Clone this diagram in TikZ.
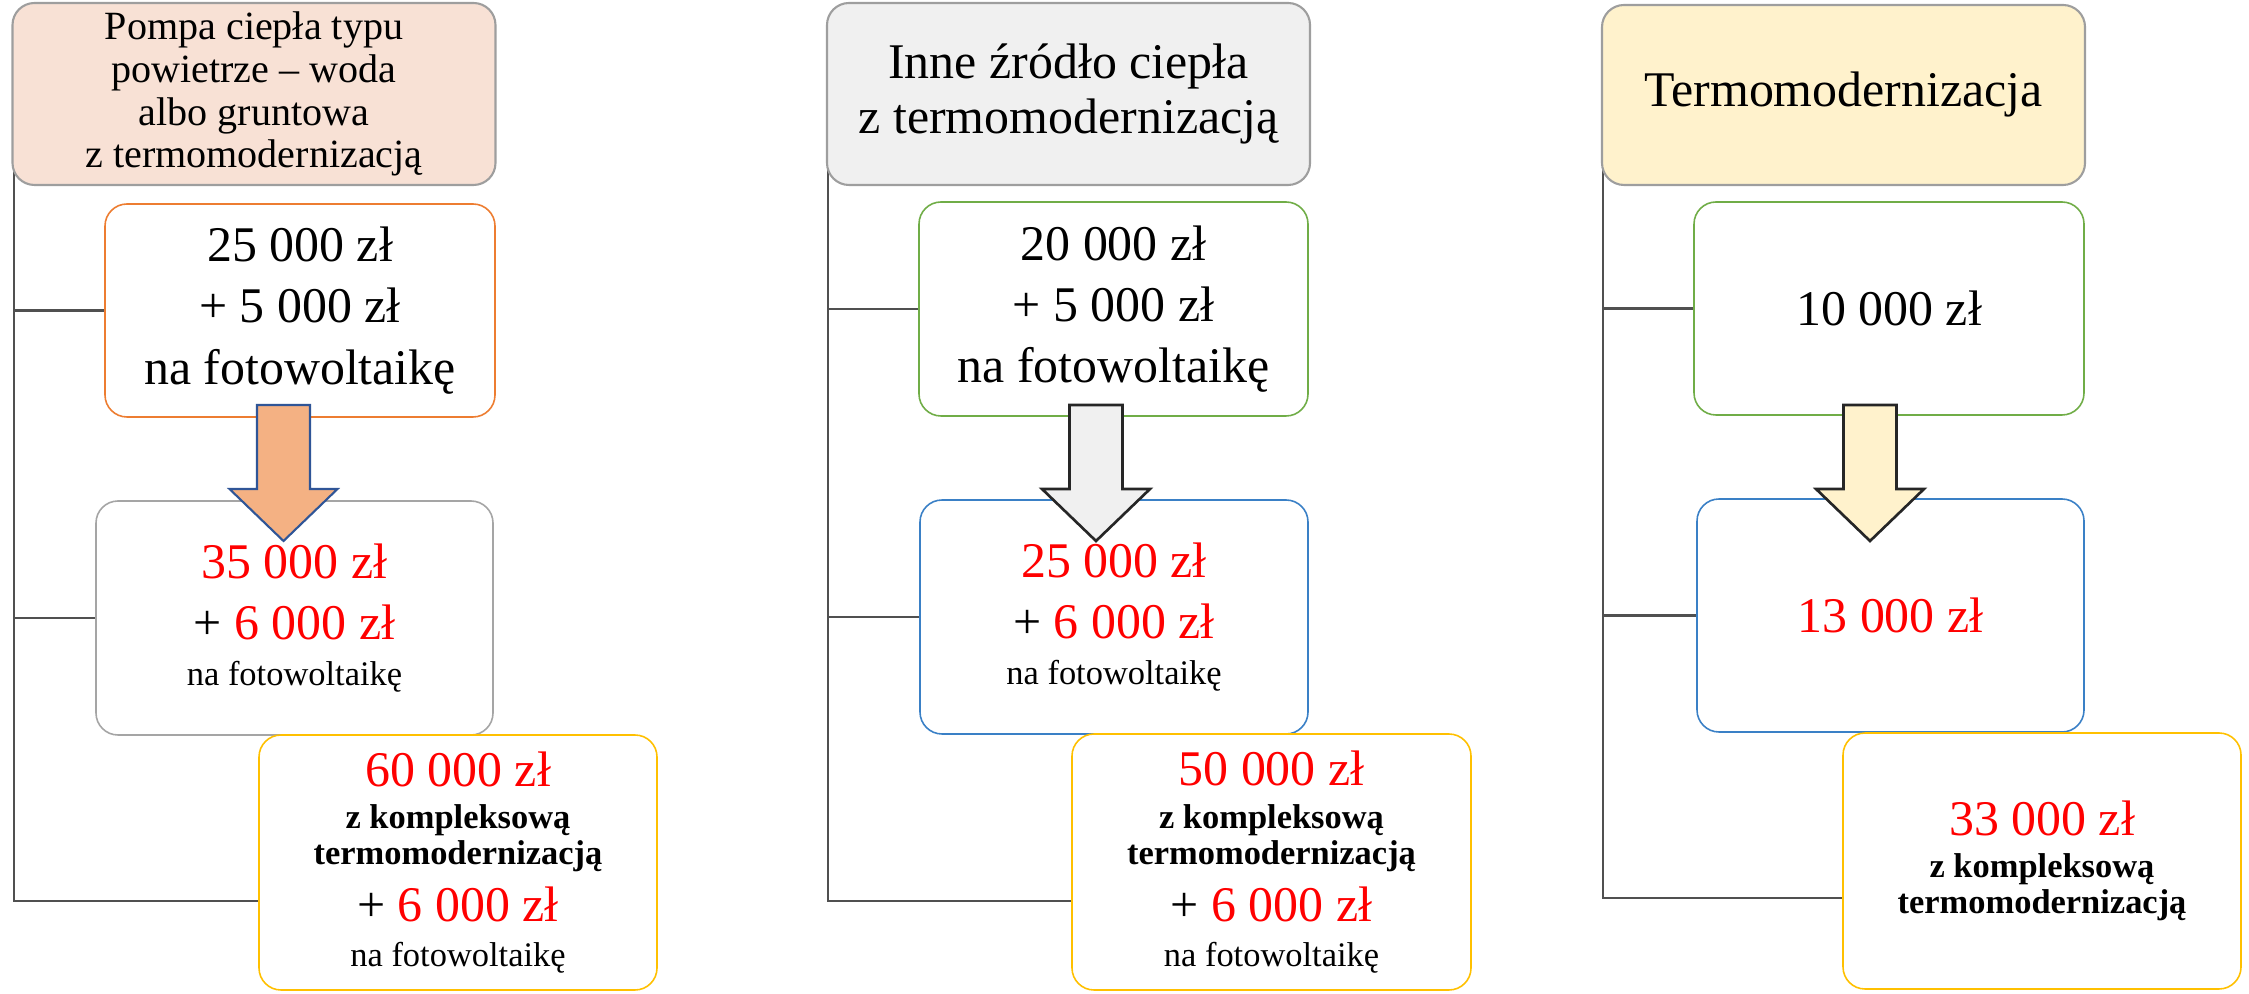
\documentclass[tikz,border=0pt]{standalone}
\usepackage{fontspec}
\setmainfont{Liberation Serif}
\usepackage{xcolor}
\usetikzlibrary{backgrounds}

\definecolor{peach}{HTML}{F8E1D5}
\definecolor{paleg}{HTML}{F0F0F0}
\definecolor{cream}{HTML}{FFF2CC}
\definecolor{headline}{HTML}{9E9E9E}
\definecolor{linkgray}{HTML}{505050}
\definecolor{orangeline}{HTML}{ED7D31}
\definecolor{greenline}{HTML}{70AD47}
\definecolor{blueline}{HTML}{3A80C6}
\definecolor{grayline}{HTML}{A5A5A5}
\definecolor{goldline}{HTML}{FFC000}
\definecolor{arrowblue}{HTML}{2F5597}
\definecolor{arrowpeach}{HTML}{F4B183}
\definecolor{darkline}{HTML}{262626}

\newcommand{\redtxt}[1]{\textcolor{red}{#1}}
\newcommand{\smallfnt}{\fontsize{9.8}{11}\selectfont}

\begin{document}
\begin{tikzpicture}[every node/.style={rounded corners=0.22cm, align=center, inner sep=0pt,
        font=\rmfamily\fontsize{14.2}{17.4}\selectfont},
    head/.style={draw=headline, line width=0.6pt, minimum width=4.83cm, minimum height=1.82cm},
    pricebox/.style={draw, line width=0.45pt, fill=white, minimum width=3.9cm, minimum height=2.13cm,
        font=\rmfamily\fontsize{14.2}{17.4}\selectfont},
    link/.style={draw=linkgray, line width=0.6pt},
    blockarrow/.pic={
        \path[pic actions, sharp corners, line join=miter] (-0.265,0) -- (0.265,0) -- (0.265,-0.84)
            -- (0.54,-0.84) -- (0,-1.36) -- (-0.54,-0.84) -- (-0.265,-0.84) -- cycle;
    }]
    \useasboundingbox (0,0) rectangle (22.49,-9.94);

    % pompa ciepla
    \node[head, fill=peach, font=\rmfamily\fontsize{11.4}{12.2}\selectfont] (hp) at (2.54,-0.94)
        {Pompa ciepła typu\\powietrze – woda\\albo gruntowa\\z termomodernizacją};
    \node[pricebox, draw=orangeline] (hp1) at (3.00,-3.105) {25 000 zł\\+ 5 000 zł\\na fotowoltaikę};
    \node[pricebox, draw=grayline, minimum width=3.97cm, minimum height=2.34cm] (hp2) at (2.945,-6.18)
        {\redtxt{35 000 zł}\\+ \redtxt{6 000 zł}\\[-4.3pt]\smallfnt na fotowoltaikę};
    \node[pricebox, draw=goldline, minimum width=3.98cm, minimum height=2.55cm] (hp3) at (4.58,-8.625)
        {\redtxt{60 000 zł}\\[-5.2pt]\smallfnt\bfseries z kompleksową\\[-7.2pt]\smallfnt\bfseries termomodernizacją\\[-1.2pt]
         + \redtxt{6 000 zł}\\[-4.6pt]\smallfnt na fotowoltaikę};

    % inne zrodlo
    \node[head, fill=paleg, font=\rmfamily\fontsize{14.2}{15.6}\selectfont] (ig) at (10.685,-0.94)
        {Inne źródło ciepła\\z termomodernizacją};
    \node[pricebox, draw=greenline, minimum width=3.89cm, minimum height=2.14cm] (ig1) at (11.135,-3.09)
        {20 000 zł\\+ 5 000 zł\\na fotowoltaikę};
    \node[pricebox, draw=blueline, minimum width=3.88cm, minimum height=2.34cm] (ig2) at (11.14,-6.17)
        {\redtxt{25 000 zł}\\+ \redtxt{6 000 zł}\\[-4.3pt]\smallfnt na fotowoltaikę};
    \node[pricebox, draw=goldline, minimum width=3.99cm, minimum height=2.56cm] (ig3) at (12.715,-8.62)
        {\redtxt{50 000 zł}\\[-5.2pt]\smallfnt\bfseries z kompleksową\\[-7.2pt]\smallfnt\bfseries termomodernizacją\\[-1.2pt]
         + \redtxt{6 000 zł}\\[-4.6pt]\smallfnt na fotowoltaikę};

    % termomodernizacja
    \node[head, fill=cream, minimum height=1.80cm] (tm) at (18.435,-0.95) {Termomodernizacja};
    \node[pricebox, draw=greenline] (tm1) at (18.89,-3.085) {10 000 zł};
    \node[pricebox, draw=blueline, minimum width=3.87cm, minimum height=2.33cm] (tm2) at (18.905,-6.155)
        {\redtxt{13 000 zł}};
    \node[pricebox, draw=goldline, minimum width=3.98cm, minimum height=2.56cm] (tm3) at (20.42,-8.61)
        {\redtxt{33 000 zł}\\[-5.4pt]\smallfnt\bfseries z kompleksową\\[-7.2pt]\smallfnt\bfseries termomodernizacją};

    % lines
    \coordinate (hpt) at (0.14,-0.65);
    \coordinate (igt) at (8.28,-0.65);
    \coordinate (tmt) at (16.03,-0.65);
    \begin{scope}[on background layer]
        \draw[link] (hpt) |- (hp1.west);
        \draw[link] (hpt) |- (hp2.west);
        \draw[link] (hpt) |- ([yshift=0.9cm]hp3.south west);
        \draw[link] (igt) |- (ig1.west);
        \draw[link] (igt) |- (ig2.west);
        \draw[link] (igt) |- ([yshift=0.9cm]ig3.south west);
        \draw[link] (tmt) |- (tm1.west);
        \draw[link] (tmt) |- (tm2.west);
        \draw[link] (tmt) |- ([yshift=0.92cm]tm3.south west);
    \end{scope}

    % arrows
    \pic[draw=arrowblue, fill=arrowpeach, line width=0.6pt] at (2.835,-4.05) {blockarrow};
    \pic[draw=darkline, fill=paleg, line width=0.75pt] at (10.96,-4.05) {blockarrow};
    \pic[draw=darkline, fill=cream, line width=0.75pt] at (18.70,-4.05) {blockarrow};
\end{tikzpicture}
\end{document}
